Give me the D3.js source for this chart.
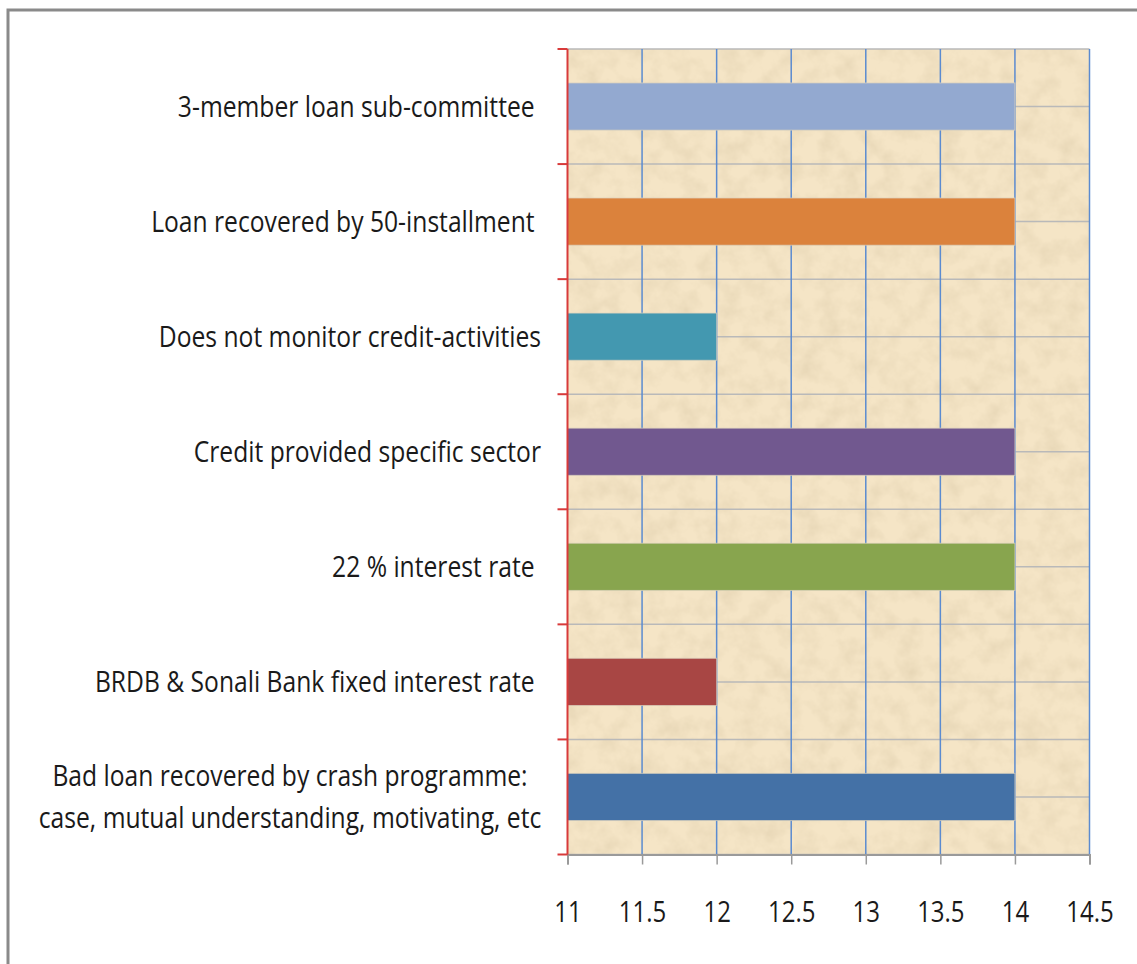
<!DOCTYPE html>
<html>
<head>
<meta charset="utf-8">
<script src="https://cdn.jsdelivr.net/npm/d3@7"></script>
<style>
  body { margin: 0; background: #fff; }
  svg text { font-family: "Open Sans", sans-serif; fill: #1a1a1a; white-space: pre; }
</style>
</head>
<body>
<div id="chart-area"></div>
<script>
// data, top to bottom as drawn
const categories = [
  "3-member loan sub-committee ",
  "Loan recovered by 50-installment ",
  "Does not monitor credit-activities",
  "Credit provided specific sector",
  "22 % interest rate ",
  "BRDB & Sonali Bank fixed interest rate ",
  "Bad loan recovered by crash programme:\ncase, mutual understanding, motivating, etc"
];
const values = [14, 14, 12, 14, 14, 12, 14];
const barColors = ["#93a9d0", "#db823c", "#4398b0", "#71588f", "#88a54e", "#a84644", "#4471a6"];
const xTicks = [11, 11.5, 12, 12.5, 13, 13.5, 14, 14.5];

const W = 1137, H = 964;
const PLOT = { LEFT: 567.5, RIGHT: 1089.5, TOP: 49, BOTTOM: 854.5 };
const TEXT_SX = 0.85;

const svg = d3.select("#chart-area").append("svg")
  .attr("width", W)
  .attr("height", H);

// frame
svg.append("rect")
  .attr("x", 8).attr("y", 10)
  .attr("width", W + 20).attr("height", H + 20)
  .attr("fill", "#fff")
  .attr("stroke", "#8a8a8a")
  .attr("stroke-width", 3);

const x = d3.scaleLinear()
  .domain([11, 14.5])
  .range([PLOT.LEFT, PLOT.RIGHT]);

const y = d3.scaleBand()
  .domain(categories)
  .range([PLOT.TOP, PLOT.BOTTOM])
  .paddingInner(0.59)
  .paddingOuter(0.295);

// parchment texture
const defs = svg.append("defs");
const filt = defs.append("filter").attr("id", "parch")
  .attr("x", 0).attr("y", 0).attr("width", 1).attr("height", 1);
filt.append("feTurbulence")
  .attr("type", "fractalNoise")
  .attr("baseFrequency", 0.05)
  .attr("numOctaves", 4)
  .attr("seed", 7)
  .attr("result", "noise");
filt.append("feColorMatrix")
  .attr("in", "noise")
  .attr("type", "matrix")
  .attr("values", "0 0 0 0 0.74  0 0 0 0 0.62  0 0 0 0 0.42  1.1 0 0 0 -0.42");

svg.append("rect")
  .attr("x", PLOT.LEFT).attr("y", PLOT.TOP)
  .attr("width", PLOT.RIGHT - PLOT.LEFT).attr("height", PLOT.BOTTOM - PLOT.TOP)
  .attr("fill", "#f5e5c6");
svg.append("rect")
  .attr("x", PLOT.LEFT).attr("y", PLOT.TOP)
  .attr("width", PLOT.RIGHT - PLOT.LEFT).attr("height", PLOT.BOTTOM - PLOT.TOP)
  .attr("fill", "#000")
  .attr("filter", "url(#parch)");

// horizontal grid: band edges and band centres
const step = y.step();
const hLines = d3.range(0, categories.length * 2 + 1).map(i => PLOT.TOP + i * step / 2);
svg.append("g").selectAll("line")
  .data(hLines)
  .join("line")
  .attr("x1", PLOT.LEFT).attr("x2", PLOT.RIGHT)
  .attr("y1", d => d).attr("y2", d => d)
  .attr("stroke", "#b9b9b9")
  .attr("stroke-width", 1.5);

// vertical grid
svg.append("g").selectAll("line")
  .data(xTicks.slice(1))
  .join("line")
  .attr("x1", d => x(d)).attr("x2", d => x(d))
  .attr("y1", PLOT.TOP).attr("y2", PLOT.BOTTOM)
  .attr("stroke", "#5b8bd0")
  .attr("stroke-width", 1.5);

// bars
svg.append("g").selectAll("rect")
  .data(categories)
  .join("rect")
  .attr("x", x(11))
  .attr("y", d => y(d))
  .attr("width", (d, i) => x(values[i]) - x(11))
  .attr("height", y.bandwidth())
  .attr("fill", (d, i) => barColors[i])
  .attr("stroke", "rgba(220,210,190,0.7)")
  .attr("stroke-width", 1);

// x axis
const xAxis = svg.append("g")
  .attr("transform", `translate(0,${PLOT.BOTTOM})`)
  .call(d3.axisBottom(x).tickValues(xTicks).tickSize(10).tickFormat(d3.format("")));
xAxis.select(".domain").attr("stroke", "#9a9a9a").attr("stroke-width", 2);
xAxis.selectAll(".tick line").attr("stroke", "#9a9a9a").attr("stroke-width", 1.5);
xAxis.selectAll(".tick text")
  .attr("y", 68).attr("dy", null)
  .attr("font-size", 30)
  .attr("font-family", "Open Sans, sans-serif")
  .attr("fill", "#1a1a1a")
  .attr("transform", "scale(0.8,1)");

// y axis (red line with ticks at band edges)
const yAxis = svg.append("g");
yAxis.append("line")
  .attr("x1", PLOT.LEFT).attr("x2", PLOT.LEFT)
  .attr("y1", PLOT.TOP).attr("y2", PLOT.BOTTOM)
  .attr("stroke", "#d83a3a")
  .attr("stroke-width", 2);
yAxis.selectAll(".ytick")
  .data(d3.range(0, categories.length + 1).map(i => PLOT.TOP + i * step))
  .join("line")
  .attr("class", "ytick")
  .attr("x1", PLOT.LEFT - 10).attr("x2", PLOT.LEFT)
  .attr("y1", d => d).attr("y2", d => d)
  .attr("stroke", "#d83a3a")
  .attr("stroke-width", 2);

// category labels (wrapped labels are centred, single ones right-aligned)
const labels = svg.append("g");
categories.forEach(c => {
  const lines = c.split("\n");
  const multi = lines.length > 1;
  const cy = y(c) + y.bandwidth() / 2 + 10;
  const t = labels.append("text")
    .attr("transform", `translate(${multi ? 290 : 541},${cy}) scale(${TEXT_SX},1)`)
    .attr("text-anchor", multi ? "middle" : "end")
    .attr("font-size", 29);
  lines.forEach((ln, j) => {
    t.append("tspan")
      .attr("x", 0)
      .attr("y", (j - (lines.length - 1) / 2) * 42)
      .text(ln);
  });
});
</script>
</body>
</html>
